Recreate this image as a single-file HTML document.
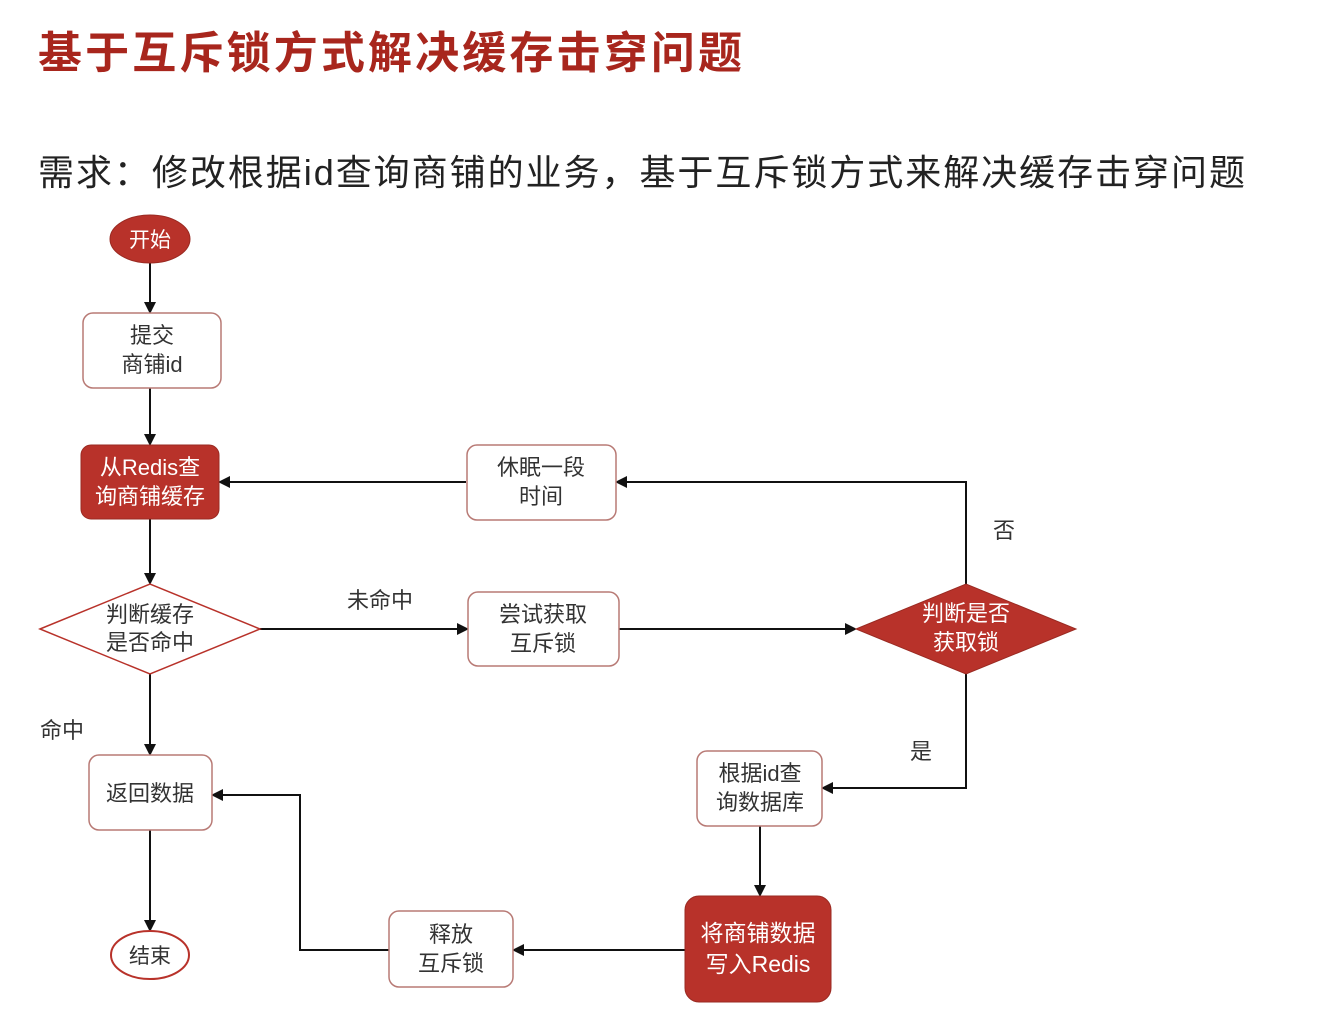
<!DOCTYPE html>
<html><head><meta charset="utf-8"><style>
body{margin:0;background:#fff;}
svg{display:block;}
text{font-family:"Liberation Sans","Noto Sans CJK SC",sans-serif;}
</style></head><body>
<svg width="1318" height="1034" viewBox="0 0 1318 1034" xmlns="http://www.w3.org/2000/svg">
<defs>
<marker id="a" markerWidth="12" markerHeight="12" refX="10" refY="6" orient="auto" markerUnits="userSpaceOnUse">
<path d="M0,0 L12,6 L0,12 Z" fill="#111"/>
</marker>
</defs>
<text x="38" y="68" font-size="44" font-weight="bold" fill="#a8261d" textLength="704">基于互斥锁方式解决缓存击穿问题</text>
<text x="38" y="185" font-size="36" fill="#222" textLength="1207">需求：修改根据id查询商铺的业务，基于互斥锁方式来解决缓存击穿问题</text>

<g stroke="#111" stroke-width="2" fill="none" marker-end="url(#a)">
<line x1="150" y1="263" x2="150" y2="312"/>
<line x1="150" y1="388" x2="150" y2="444"/>
<line x1="150" y1="519" x2="150" y2="583"/>
<line x1="150" y1="674" x2="150" y2="754"/>
<line x1="150" y1="830" x2="150" y2="930"/>
<line x1="260" y1="629" x2="467" y2="629"/>
<line x1="619" y1="629" x2="855" y2="629"/>
<polyline points="966,584 966,482 617,482"/>
<line x1="466" y1="482" x2="220" y2="482"/>
<polyline points="966,674 966,788 823,788"/>
<line x1="760" y1="826" x2="760" y2="895"/>
<line x1="685" y1="950" x2="514" y2="950"/>
<polyline points="389,950 300,950 300,795 213,795"/>
</g>

<ellipse cx="150" cy="239" rx="40" ry="24" fill="#b8322a" stroke="#9a2a22"/>
<text x="150" y="247" font-size="21" fill="#fff" text-anchor="middle">开始</text>

<rect x="83" y="313" width="138" height="75" rx="10" fill="#fff" stroke="#b87a75" stroke-width="1.5"/>
<text x="152" y="343" font-size="22" fill="#333" text-anchor="middle">提交</text>
<text x="152" y="372" font-size="22" fill="#333" text-anchor="middle">商铺id</text>

<rect x="81" y="445" width="138" height="74" rx="10" fill="#b8322a" stroke="#9a2a22"/>
<text x="150" y="475" font-size="22" fill="#fff" text-anchor="middle">从Redis查</text>
<text x="150" y="504" font-size="22" fill="#fff" text-anchor="middle">询商铺缓存</text>

<polygon points="40,629 150,584 260,629 150,674" fill="#fff" stroke="#b8322a" stroke-width="1.5"/>
<text x="150" y="622" font-size="22" fill="#333" text-anchor="middle">判断缓存</text>
<text x="150" y="650" font-size="22" fill="#333" text-anchor="middle">是否命中</text>

<rect x="89" y="755" width="123" height="75" rx="10" fill="#fff" stroke="#b87a75" stroke-width="1.5"/>
<text x="150" y="801" font-size="22" fill="#333" text-anchor="middle">返回数据</text>

<ellipse cx="150" cy="955" rx="39" ry="24" fill="#fff" stroke="#b8322a" stroke-width="2"/>
<text x="150" y="963" font-size="21" fill="#333" text-anchor="middle">结束</text>

<rect x="467" y="445" width="149" height="75" rx="10" fill="#fff" stroke="#b87a75" stroke-width="1.5"/>
<text x="541" y="475" font-size="22" fill="#333" text-anchor="middle">休眠一段</text>
<text x="541" y="504" font-size="22" fill="#333" text-anchor="middle">时间</text>

<rect x="468" y="592" width="151" height="74" rx="10" fill="#fff" stroke="#b87a75" stroke-width="1.5"/>
<text x="543" y="622" font-size="22" fill="#333" text-anchor="middle">尝试获取</text>
<text x="543" y="651" font-size="22" fill="#333" text-anchor="middle">互斥锁</text>

<polygon points="856,629 966,584 1076,629 966,674" fill="#b8322a" stroke="#9a2a22"/>
<text x="966" y="621" font-size="22" fill="#fff" text-anchor="middle">判断是否</text>
<text x="966" y="650" font-size="22" fill="#fff" text-anchor="middle">获取锁</text>

<rect x="697" y="751" width="125" height="75" rx="10" fill="#fff" stroke="#b87a75" stroke-width="1.5"/>
<text x="760" y="781" font-size="22" fill="#333" text-anchor="middle">根据id查</text>
<text x="760" y="810" font-size="22" fill="#333" text-anchor="middle">询数据库</text>

<rect x="685" y="896" width="146" height="106" rx="14" fill="#b8322a" stroke="#9a2a22"/>
<text x="758" y="941" font-size="23" fill="#fff" text-anchor="middle">将商铺数据</text>
<text x="758" y="972" font-size="23" fill="#fff" text-anchor="middle">写入Redis</text>

<rect x="389" y="911" width="124" height="76" rx="10" fill="#fff" stroke="#b87a75" stroke-width="1.5"/>
<text x="451" y="942" font-size="22" fill="#333" text-anchor="middle">释放</text>
<text x="451" y="971" font-size="22" fill="#333" text-anchor="middle">互斥锁</text>

<text x="380" y="608" font-size="22" fill="#333" text-anchor="middle">未命中</text>
<text x="1004" y="538" font-size="22" fill="#333" text-anchor="middle">否</text>
<text x="921" y="759" font-size="22" fill="#333" text-anchor="middle">是</text>
<text x="62" y="738" font-size="22" fill="#333" text-anchor="middle">命中</text>
</svg>
</body></html>
